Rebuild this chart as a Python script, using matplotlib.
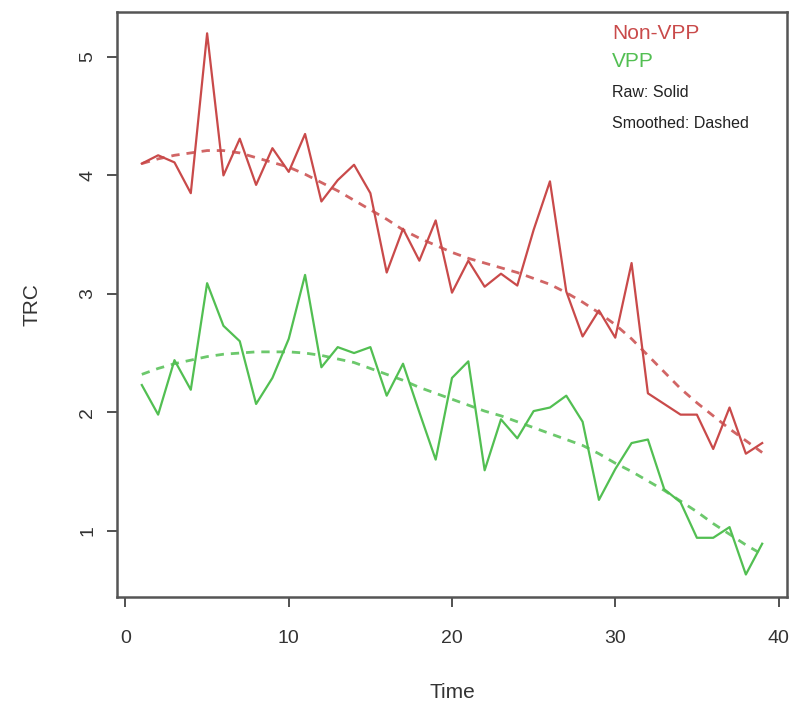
import numpy as np
import matplotlib.pyplot as plt

# --- data ---
time = np.arange(1, 40)

non_vpp_raw = [4.10, 4.17, 4.11, 3.85, 5.20, 4.00, 4.31, 3.92, 4.23, 4.03,
               4.35, 3.78, 3.96, 4.09, 3.85, 3.18, 3.55, 3.28, 3.62, 3.01,
               3.28, 3.06, 3.17, 3.07, 3.54, 3.95, 3.02, 2.64, 2.86, 2.63,
               3.26, 2.16, 2.07, 1.98, 1.98, 1.69, 2.04, 1.65, 1.74]

vpp_raw = [2.23, 1.98, 2.44, 2.19, 3.09, 2.73, 2.60, 2.07, 2.29, 2.62,
           3.16, 2.38, 2.55, 2.50, 2.55, 2.14, 2.41, 2.00, 1.60, 2.29,
           2.43, 1.51, 1.94, 1.78, 2.01, 2.04, 2.14, 1.92, 1.26, 1.52,
           1.74, 1.77, 1.35, 1.24, 0.94, 0.94, 1.03, 0.63, 0.89]

non_vpp_smooth = [4.10, 4.14, 4.17, 4.19, 4.21, 4.21, 4.19, 4.15, 4.11, 4.07,
                  4.01, 3.94, 3.87, 3.79, 3.71, 3.63, 3.54, 3.47, 3.41, 3.35,
                  3.30, 3.26, 3.22, 3.18, 3.13, 3.08, 3.01, 2.93, 2.84, 2.74,
                  2.62, 2.48, 2.34, 2.20, 2.08, 1.97, 1.86, 1.76, 1.66]

vpp_smooth = [2.32, 2.37, 2.41, 2.44, 2.47, 2.49, 2.50, 2.51, 2.51, 2.51,
              2.50, 2.48, 2.45, 2.42, 2.37, 2.32, 2.27, 2.21, 2.16, 2.11,
              2.06, 2.01, 1.97, 1.92, 1.87, 1.82, 1.77, 1.72, 1.65, 1.57,
              1.50, 1.42, 1.34, 1.25, 1.16, 1.06, 0.97, 0.88, 0.80]

x_ticks = [0, 10, 20, 30, 40]
y_ticks = [1, 2, 3, 4, 5]

RED = "#c94a4a"
GREEN = "#52bf52"

plt.rcParams["font.family"] = ["Liberation Sans", "DejaVu Sans"]

fig = plt.figure(figsize=(7.92, 7.06), dpi=100)
ax = fig.add_axes([117 / 792, 1 - 597 / 706, 670 / 792, 585 / 706])

# raw series solid, smoothed dashed
ax.plot(time, non_vpp_raw, color=RED, lw=1.6)
ax.plot(time, vpp_raw, color=GREEN, lw=1.6)
ax.plot(time, non_vpp_smooth, color=RED, lw=2.0, ls=(0, (3, 2.5)), alpha=0.85)
ax.plot(time, vpp_smooth, color=GREEN, lw=2.0, ls=(0, (3, 2.5)), alpha=0.85)

ax.set_xlim(-0.52, 40.52)
ax.set_ylim(0.44, 5.38)
ax.set_xticks(x_ticks)
ax.set_yticks(y_ticks)
ax.tick_params(direction="out", length=7, width=1.2, colors="#333333",
               labelsize=14)
ax.tick_params(axis="x", pad=17)
ax.tick_params(axis="y", pad=8)
for lab in ax.get_yticklabels():
    lab.set_rotation(90)
    lab.set_va("center")

for sp in ax.spines.values():
    sp.set_color("#555555")
    sp.set_linewidth(1.8)

ax.set_xlabel("Time", fontsize=15, color="#333333", labelpad=26)
ax.set_ylabel("TRC", fontsize=15, color="#333333", labelpad=27)

# text legend, top right
tx = (612 - 117) / 670
ax.text(tx, 0.964, "Non-VPP", color=RED, fontsize=15, va="center",
        transform=ax.transAxes)
ax.text(tx, 0.915, "VPP", color=GREEN, fontsize=15, va="center",
        transform=ax.transAxes)
ax.text(tx, 0.862, "Raw: Solid", color="#222222", fontsize=11.5, va="center",
        transform=ax.transAxes)
ax.text(tx, 0.809, "Smoothed: Dashed", color="#222222", fontsize=11.5,
        va="center", transform=ax.transAxes)

fig.savefig("out.png", dpi=100)
